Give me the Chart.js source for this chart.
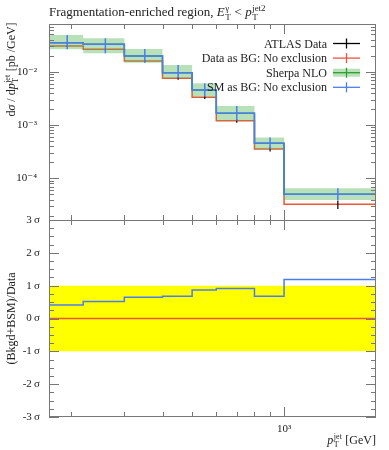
<!DOCTYPE html>
<html lang="en">
<head>
<meta charset="UTF-8">
<title>Fragmentation-enriched region</title>
<script src="https://cdn.jsdelivr.net/npm/chart.js"></script>
<style>
  body { margin: 0; background: #fff; }
  #grafico { display: block; }
</style>
</head>
<body>
<canvas id="grafico" width="389" height="450"></canvas>
<script>
// bin edges in pT jet [GeV]
const bordas = [170, 220, 300, 400, 500, 600, 800, 1000, 2000];
// ATLAS data (= "Data as BG") in pb/GeV and relative error
const dados = [0.0303, 0.0263, 0.0158, 0.0075, 0.00331, 0.0012, 0.000355, 0.0000325];
const errDados = [0.04, 0.04, 0.05, 0.06, 0.07, 0.08, 0.10, 0.18];
// Sherpa NLO / SM as BG, with band
const sm = [0.035, 0.0327, 0.0197, 0.00958, 0.00454, 0.00166, 0.000454, 0.000050];
const smCima = [0.0489, 0.0424, 0.0267, 0.0134, 0.00605, 0.00227, 0.00058, 0.000065];
const smBaixo = [0.0263, 0.0221, 0.0147, 0.0075, 0.0034, 0.0012, 0.00035, 0.000039];
// significance in the lower panel
const signif = [0.41, 0.52, 0.65, 0.68, 0.87, 0.91, 0.68, 1.19];
const ticksX = [200, 300, 400, 500, 600, 700, 800, 900, 1000];

const VERMELHO = '#ee5537';
const AZUL = '#4a7cf4';
const VERDE = '#2e9e2e';
const BANDA = 'rgba(80,180,80,0.40)';
const SERIF = '"Liberation Serif", "DejaVu Serif", serif';

function degraus(vals) {
    return bordas.map((b, i) => ({ x: b, y: vals[Math.min(i, vals.length - 1)] }));
}
function constante(v) {
    return [{ x: bordas[0], y: v }, { x: bordas[bordas.length - 1], y: v }];
}
function sup(n) {
    const m = { '-': '\u207B', '0': '\u2070', '1': '\u00B9', '2': '\u00B2', '3': '\u00B3', '4': '\u2074', '5': '\u2075' };
    return String(n).split('').map(c => m[c]).join('');
}

// rich text: parts = {t, i} or {t, i, sub, sup}
function largura(ctx, parts, tam) {
    let w = 0;
    parts.forEach(p => {
        ctx.font = (p.i ? 'italic ' : '') + tam + 'px ' + SERIF;
        w += ctx.measureText(p.t).width;
        if (p.sub || p.sup) {
            ctx.font = Math.round(tam * 0.7) + 'px ' + SERIF;
            w += Math.max(ctx.measureText(p.sub || '').width, ctx.measureText(p.sup || '').width) + 1;
        }
    });
    return w;
}
function escrever(ctx, parts, x, y, tam) {
    ctx.textAlign = 'left';
    ctx.textBaseline = 'alphabetic';
    parts.forEach(p => {
        ctx.font = (p.i ? 'italic ' : '') + tam + 'px ' + SERIF;
        ctx.fillText(p.t, x, y);
        x += ctx.measureText(p.t).width;
        if (p.sub || p.sup) {
            ctx.font = Math.round(tam * 0.7) + 'px ' + SERIF;
            let w = 0;
            if (p.sub) { ctx.fillText(p.sub, x + 0.5, y + tam * 0.28); w = ctx.measureText(p.sub).width; }
            if (p.sup) { ctx.fillText(p.sup, x + 0.5, y - tam * 0.42); w = Math.max(w, ctx.measureText(p.sup).width); }
            x += w + 1;
        }
    });
}

const painel = {
    id: 'painel',
    afterDatasetDraw(chart, args) {
        // black data error bars right after the red line
        if (args.index !== 3) return;
        const ctx = chart.ctx, x = chart.scales.x, y = chart.scales.y;
        ctx.save();
        ctx.strokeStyle = '#000';
        ctx.lineWidth = 1.2;
        dados.forEach((v, i) => {
            const px = x.getPixelForValue((bordas[i] + bordas[i + 1]) / 2);
            ctx.beginPath();
            ctx.moveTo(px, y.getPixelForValue(v * (1 + errDados[i])));
            ctx.lineTo(px, y.getPixelForValue(v * (1 - errDados[i])));
            ctx.stroke();
        });
        ctx.restore();
    },
    afterDatasetsDraw(chart) {
        const ctx = chart.ctx, x = chart.scales.x, y = chart.scales.y, r = chart.scales.y2;
        ctx.save();
        // blue error bars
        ctx.strokeStyle = AZUL;
        ctx.lineWidth = 1.5;
        sm.forEach((v, i) => {
            const px = x.getPixelForValue((bordas[i] + bordas[i + 1]) / 2);
            ctx.beginPath();
            ctx.moveTo(px, y.getPixelForValue(smCima[i]));
            ctx.lineTo(px, y.getPixelForValue(smBaixo[i]));
            ctx.stroke();
        });

        // frames
        const L = x.left, R = x.right;
        const T1 = y.top, B1 = y.bottom, T2 = r.top, B2 = r.bottom;
        ctx.strokeStyle = '#777';
        ctx.lineWidth = 1;
        ctx.strokeRect(L + 0.5, T1 + 0.5, R - L - 1, B1 - T1);
        ctx.strokeRect(L + 0.5, T2 + 0.5, R - L - 1, B2 - T2 - 1);

        function tick(x0, y0, dx, dy) {
            ctx.beginPath();
            ctx.moveTo(x0, y0);
            ctx.lineTo(x0 + dx, y0 + dy);
            ctx.stroke();
        }
        // x ticks
        ticksX.forEach(v => {
            const px = Math.round(x.getPixelForValue(v)) + 0.5;
            const len = v === 1000 ? 10 : 5;
            tick(px, T1, 0, len);
            tick(px, B1, 0, -len);
            tick(px, T2, 0, len);
            tick(px, B2, 0, -len);
        });
        // log y ticks of the upper panel
        for (let e = -5; e <= -1; e++) {
            for (let m = 1; m <= 9; m++) {
                const v = m * Math.pow(10, e);
                if (v < y.min || v > y.max) continue;
                const py = Math.round(y.getPixelForValue(v)) + 0.5;
                const len = m === 1 ? 10 : 5;
                tick(L, py, len, 0);
                tick(R, py, -len, 0);
            }
        }
        // linear ticks of the lower panel
        for (let k = -12; k <= 12; k++) {
            const v = k / 4;
            const py = Math.round(r.getPixelForValue(v)) + 0.5;
            const len = k % 4 === 0 ? 10 : 5;
            tick(L, py, len, 0);
            tick(R, py, -len, 0);
        }

        ctx.fillStyle = '#222';
        // title
        escrever(ctx, [
            { t: 'Fragmentation-enriched region, ' },
            { t: 'E', i: true, sub: 'T', sup: '\u03B3' },
            { t: ' < ' },
            { t: 'p', i: true, sub: 'T', sup: 'jet2' }
        ], L, 16, 13);

        // x title
        const tx = [{ t: 'p', i: true, sub: 'T', sup: 'jet' }, { t: ' [GeV]' }];
        escrever(ctx, tx, R - largura(ctx, tx, 12), 444, 12);

        // y titles
        const ty1 = [{ t: 'd' }, { t: '\u03C3', i: true }, { t: ' / d' }, { t: 'p', i: true, sub: 'T', sup: 'jet' }, { t: ' [pb /GeV]' }];
        ctx.save();
        ctx.translate(15, (T1 + 115) / 2);
        ctx.rotate(-Math.PI / 2);
        escrever(ctx, ty1, -largura(ctx, ty1, 12) / 2, 0, 12);
        ctx.restore();
        const ty2 = [{ t: '(Bkgd+BSM)/Data' }];
        ctx.save();
        ctx.translate(15, r.getPixelForValue(0));
        ctx.rotate(-Math.PI / 2);
        escrever(ctx, ty2, -largura(ctx, ty2, 12) / 2, 0, 12);
        ctx.restore();

        // legend
        const itens = [
            ['ATLAS Data', '#000', false],
            ['Data as BG: No exclusion', VERMELHO, false],
            ['Sherpa NLO', VERDE, true],
            ['SM as BG: No exclusion', AZUL, false]
        ];
        itens.forEach((it, i) => {
            const cy = 43.5 + i * 14.6;
            ctx.font = '12px ' + SERIF;
            ctx.textAlign = 'right';
            ctx.textBaseline = 'middle';
            ctx.fillStyle = '#222';
            ctx.fillText(it[0], 327, cy + 1);
            if (it[2]) {
                ctx.fillStyle = BANDA;
                ctx.fillRect(333, cy - 4, 27, 8);
            }
            ctx.strokeStyle = it[1];
            ctx.lineWidth = 1.3;
            tick(333, cy, 27, 0);
            tick(346.5, cy - 5, 0, 10);
        });
        ctx.restore();
    }
};

new Chart(document.getElementById('grafico'), {
    type: 'line',
    data: {
        datasets: [
            { data: degraus(smCima), yAxisID: 'y', stepped: true, borderWidth: 0, backgroundColor: BANDA, fill: '+1', order: 6 },
            { data: degraus(smBaixo), yAxisID: 'y', stepped: true, borderWidth: 0, fill: false, order: 6 },
            { data: degraus(sm), yAxisID: 'y', stepped: true, borderColor: VERDE, borderWidth: 1.5, fill: false, order: 5 },
            { data: degraus(dados), yAxisID: 'y', stepped: true, borderColor: VERMELHO, borderWidth: 1.5, fill: false, order: 8 },
            { data: degraus(sm), yAxisID: 'y', stepped: true, borderColor: AZUL, borderWidth: 1.5, fill: false, order: 4 },
            { data: constante(1), yAxisID: 'y2', borderWidth: 0, backgroundColor: '#ffff00', fill: '+1', order: 9 },
            { data: constante(-1), yAxisID: 'y2', borderWidth: 0, fill: false, order: 9 },
            { data: constante(0), yAxisID: 'y2', borderColor: VERMELHO, borderWidth: 1.5, fill: false, order: 8 },
            { data: degraus(signif), yAxisID: 'y2', stepped: true, borderColor: AZUL, borderWidth: 1.5, fill: false, order: 4 }
        ]
    },
    options: {
        responsive: false,
        animation: false,
        elements: { point: { radius: 0 } },
        layout: { padding: { top: 24, right: 13, left: 0, bottom: 0 } },
        plugins: { legend: { display: false }, tooltip: { enabled: false } },
        scales: {
            x: {
                type: 'logarithmic', min: 170, max: 2000, position: 'bottom',
                grid: { display: false, drawTicks: false }, border: { display: false },
                afterFit: s => { s.height = 33; },
                ticks: {
                    autoSkip: false, maxRotation: 0, padding: 6, color: '#222',
                    font: { family: SERIF, size: 11 },
                    callback: v => v === 1000 ? '10' + sup(3) : ''
                }
            },
            y2: {
                type: 'linear', min: -3, max: 3, position: 'left', stack: 'p', stackWeight: 197, weight: 1,
                grid: { display: false, drawTicks: false }, border: { display: false },
                afterFit: s => { s.width = 49; },
                ticks: {
                    stepSize: 1, padding: 9, color: '#222',
                    font: { family: SERIF, size: 11 },
                    callback: v => v + '\u2009\u03C3'
                }
            },
            y: {
                type: 'logarithmic', min: 1.65e-5, max: 0.0785, position: 'left', stack: 'p', stackWeight: 196, weight: 2,
                grid: { display: false, drawTicks: false }, border: { display: false },
                afterFit: s => { s.width = 49; },
                ticks: {
                    autoSkip: false, padding: 12, color: '#222',
                    font: { family: SERIF, size: 11 },
                    callback: v => {
                        const l = Math.log10(v);
                        return Math.abs(l - Math.round(l)) < 1e-6 ? '10' + sup(Math.round(l)) : '';
                    }
                }
            }
        }
    },
    plugins: [painel]
});
</script>
</body>
</html>
